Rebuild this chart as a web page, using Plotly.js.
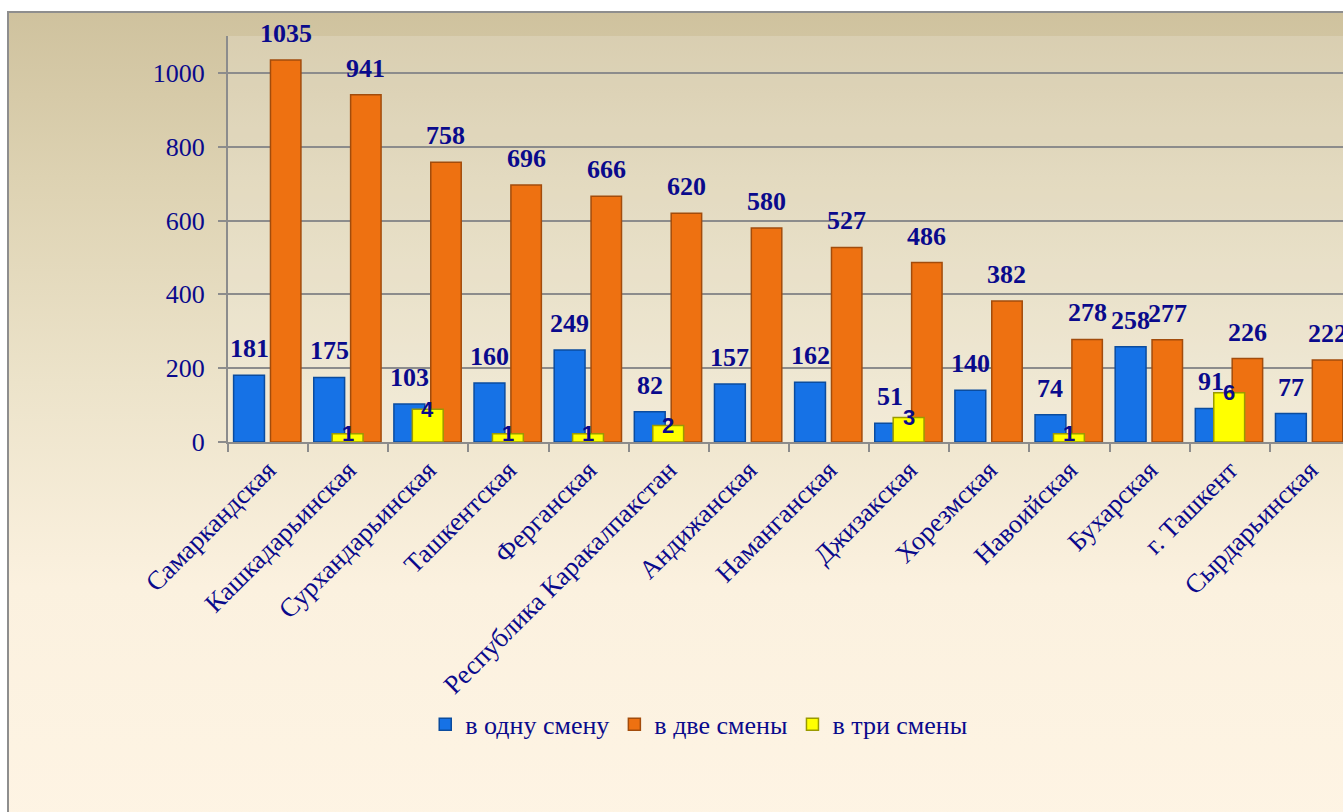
<!DOCTYPE html>
<html><head><meta charset="utf-8">
<script src="https://cdn.plot.ly/plotly-3.0.1.min.js"></script>
<style>
html,body{margin:0;padding:0;width:1343px;height:812px;overflow:hidden;background:#fff;}
#frame{position:absolute;left:7px;top:11px;width:1400px;height:820px;border-left:2px solid #8e8e8e;border-top:2px solid #8e8e8e;
background:linear-gradient(to bottom,#cfc29e 0%,#ddd2b2 20%,#ece3ca 45%,#fbf1df 70%,#fef4e4 100%);}
#chart{position:absolute;left:0;top:0;width:1360px;height:812px;}
</style></head>
<body>
<div id="frame"></div>
<div id="chart"></div>
<script>
const categories = ["Самаркандская","Кашкадарьинская","Сурхандарьинская","Ташкентская","Ферганская","Республика Каракалпакстан","Андижанская","Наманганская","Джизакская","Хорезмская","Навоийская","Бухарская","г. Ташкент","Сырдарьинская"];
const oneShift   = [181,175,103,160,249,82,157,162,51,140,74,258,91,77];
const twoShifts  = [1035,941,758,696,666,620,580,527,486,382,278,277,226,222];
const threeShifts= [null,1,4,1,1,2,null,null,3,null,1,null,6,null];
const seriesNames = ["в одну смену","в две смены","в три смены"];

const navy = '#0a0a8c';
const catPx = 1122/14;
const blueOff = -0.43, blueW = 0.385;
const orOff = 0.03, orW = 0.38;
const yelOff = -0.2, yelW = 0.385;

const traces = [
  {type:'bar', name:seriesNames[0], x:categories, y:oneShift, offset:blueOff, width:blueW,
   marker:{color:'#1672e6', line:{color:'#0b4c9e', width:1.5}}, hoverinfo:'y'},
  {type:'bar', name:seriesNames[1], x:categories, y:twoShifts, offset:orOff, width:orW,
   marker:{color:'#ee7111', line:{color:'#a24c0c', width:1.5}}, hoverinfo:'y'},
  {type:'bar', name:seriesNames[2], x:categories, y:threeShifts, offset:yelOff, width:yelW, yaxis:'y2',
   marker:{color:'#ffff00', line:{color:'#9a9a00', width:1.5}}, hoverinfo:'y'}
];

const annotations = [];
const labFont = {family:'Liberation Serif, Times New Roman, serif', size:26, color:navy, weight:'bold'};
categories.forEach((c,i)=>{
  annotations.push({x:c, y:oneShift[i], xref:'x', yref:'y', text:String(oneShift[i]), showarrow:false,
    xshift:(blueOff+blueW/2)*catPx, yshift:10, yanchor:'bottom', font:labFont});
  annotations.push({x:c, y:twoShifts[i], xref:'x', yref:'y', text:String(twoShifts[i]), showarrow:false,
    xshift:(orOff+orW/2)*catPx, yshift:10, yanchor:'bottom', font:labFont});
  if (threeShifts[i] !== null) {
    annotations.push({x:c, y:threeShifts[i], xref:'x', yref:'y2', text:String(threeShifts[i]), showarrow:false,
      xshift:(yelOff+yelW/2)*catPx, yanchor:'middle',
      font:{family:'Liberation Sans, Arial, sans-serif', size:22, color:navy, weight:'bold'}});
  }
});

const layout = {
  width:1360, height:812,
  margin:{l:228, r:10, t:36, b:370},
  paper_bgcolor:'rgba(0,0,0,0)',
  plot_bgcolor:'rgba(255,255,255,0.18)',
  barmode:'overlay',
  showlegend:true,
  xaxis:{type:'category', range:[-0.5,13.5], tickson:'boundaries', ticks:'outside', ticklen:8,
    tickcolor:'#8c8c8c', tickwidth:2, showline:true, linecolor:'#8c8c8c', linewidth:2,
    tickangle:-45, tickfont:{family:'Liberation Serif, Times New Roman, serif', size:26.5, color:navy},
    showgrid:false, fixedrange:true},
  yaxis:{range:[0,1100], tickvals:[0,200,400,600,800,1000], showgrid:true, gridcolor:'#8c8c8c', gridwidth:2,
    showline:true, linecolor:'#8c8c8c', linewidth:2, ticks:'outside', ticklen:8, tickcolor:'#8c8c8c', tickwidth:2,
    zeroline:false, ticklabelstandoff:8,
    tickfont:{family:'Liberation Serif, Times New Roman, serif', size:26, color:navy}},
  yaxis2:{overlaying:'y', range:[0,49.5], visible:false, showgrid:false},
  legend:{orientation:'h', x:0.42, xanchor:'center', yref:'container', y:0.108, yanchor:'middle',
    font:{family:'Liberation Serif, Times New Roman, serif', size:26, color:navy},
    bgcolor:'rgba(0,0,0,0)', traceorder:'normal', itemwidth:30},
  annotations:annotations
};

Plotly.newPlot('chart', traces, layout, {displayModeBar:false, staticPlot:true});
</script>
</body></html>
